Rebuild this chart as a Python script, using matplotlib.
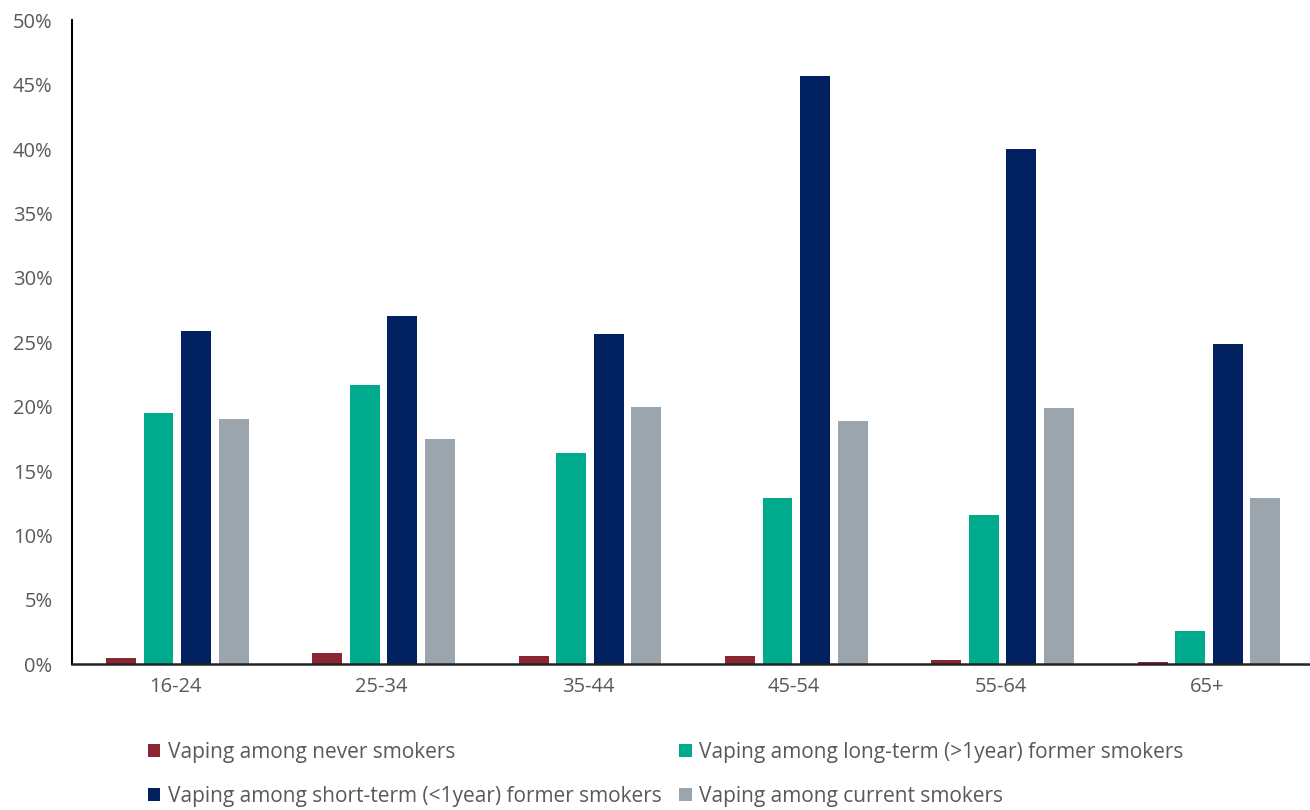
import numpy as np
import matplotlib.pyplot as plt
from matplotlib.ticker import MultipleLocator, FuncFormatter

plt.rcParams['font.family'] = ['Open Sans', 'DejaVu Sans']

ages = ['16-24', '25-34', '35-44', '45-54', '55-64', '65+']
never = [0.5, 0.9, 0.6, 0.6, 0.3, 0.2]
long_term = [19.5, 21.7, 16.4, 12.9, 11.6, 2.6]
short_term = [25.9, 27.0, 25.6, 45.7, 40.0, 24.9]
current = [19.0, 17.5, 20.0, 18.9, 19.9, 12.9]

series = [
    ('Vaping among never smokers', never, '#8B2532'),
    ('Vaping among long-term (>1year) former smokers', long_term, '#00AA8D'),
    ('Vaping among short-term (<1year) former smokers', short_term, '#002060'),
    ('Vaping among current smokers', current, '#9AA5AE'),
]

fig = plt.figure(figsize=(13.1, 8.1), dpi=100)
ax = fig.add_axes([0.055, 0.18, 0.945, 0.795])

x = np.arange(len(ages))
w = 0.145
step = 0.182
for i, (name, vals, col) in enumerate(series):
    ax.bar(x + (i - 1.5) * step + 0.01, vals, w, color=col, label=name)

ax.set_xlim(-0.5, 5.5)
ax.set_ylim(0, 50)
ax.yaxis.set_major_locator(MultipleLocator(5))
ax.yaxis.set_major_formatter(FuncFormatter(lambda v, p: f'{v:.0f}%'))
ax.set_xticks(x)
ax.set_xticklabels(ages)
ax.tick_params(axis='both', length=0, labelsize=14.5, colors='#595959')
ax.tick_params(axis='x', pad=9)
ax.tick_params(axis='y', pad=14)
for s in ['top', 'right']:
    ax.spines[s].set_visible(False)
ax.spines['left'].set_color('black')
ax.spines['left'].set_linewidth(1.5)
ax.spines['bottom'].set_color('#222222')
ax.spines['bottom'].set_linewidth(1.8)

# legend fills row by row in the reference
handles, labels = ax.get_legend_handles_labels()
order = [0, 2, 1, 3]
fig.legend([handles[k] for k in order], [labels[k] for k in order],
           ncol=2, loc='upper left', bbox_to_anchor=(0.105, 0.097),
           frameon=False, fontsize=15, labelcolor='#595959',
           handlelength=0.6, handleheight=0.6, handletextpad=0.35,
           columnspacing=0.84, labelspacing=1.1, borderpad=0)

fig.savefig('out.png')
